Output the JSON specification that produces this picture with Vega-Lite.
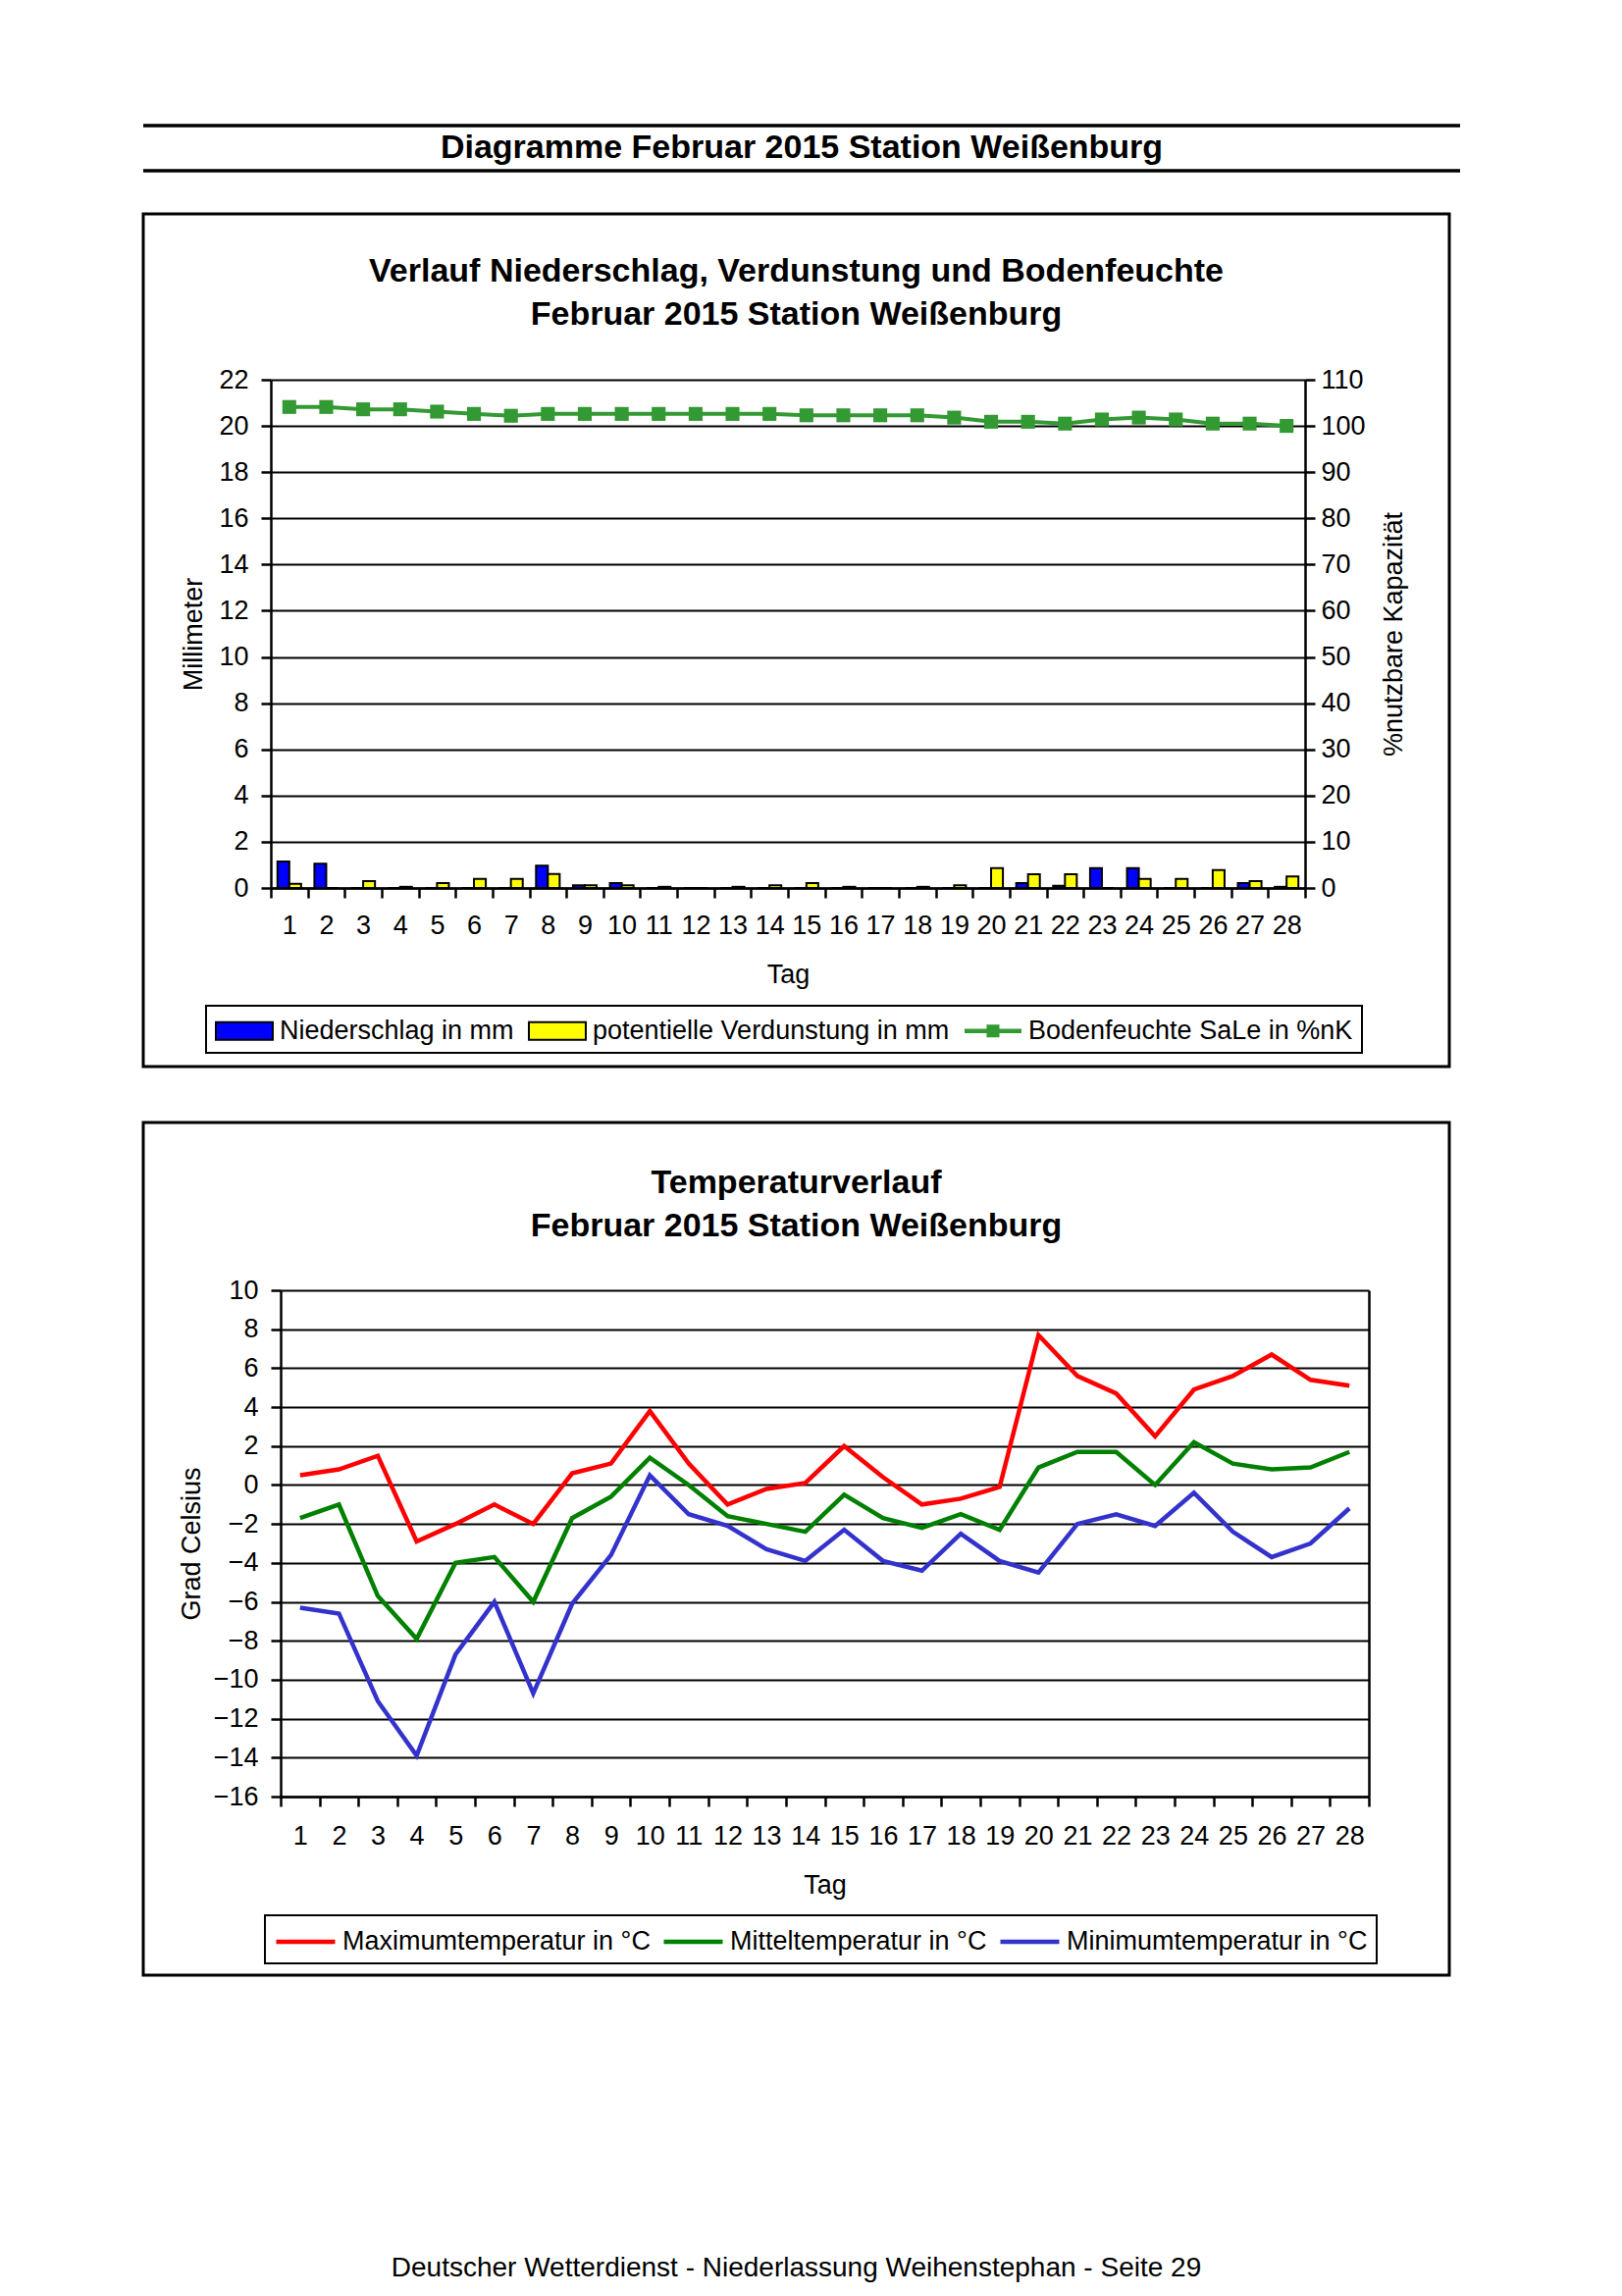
{
  "$schema": "https://vega.github.io/schema/vega-lite/v6.json",
  "background": "white",
  "padding": {"left": 144, "top": 126, "right": 20, "bottom": 0},
  "config": {
    "font": "Liberation Sans",
    "view": {"stroke": null},
    "axis": {"domainColor": "black", "domainWidth": 2.5, "tickColor": "black", "tickWidth": 2.5, "tickSize": 10, "labelColor": "black", "labelFontSize": 27, "labelFont": "Liberation Sans", "titleFont": "Liberation Sans", "titleFontSize": 27, "titleFontWeight": "normal", "titleColor": "black", "gridColor": "black", "gridWidth": 2, "gridOpacity": 1, "labelOverlap": false, "labelFlush": false},
    "legend": {"labelFont": "Liberation Sans", "labelFontSize": 27, "labelColor": "black", "labelLimit": 0},
    "title": {"font": "Liberation Sans", "color": "black"}
  },
  "datasets": {
    "nd": [
      {"Tag": 1, "Reihe": "Niederschlag in mm", "mm": 1.15}, {"Tag": 1, "Reihe": "potentielle Verdunstung in mm", "mm": 0.18},
      {"Tag": 2, "Reihe": "Niederschlag in mm", "mm": 1.05}, {"Tag": 2, "Reihe": "potentielle Verdunstung in mm", "mm": 0},
      {"Tag": 3, "Reihe": "Niederschlag in mm", "mm": 0}, {"Tag": 3, "Reihe": "potentielle Verdunstung in mm", "mm": 0.3},
      {"Tag": 4, "Reihe": "Niederschlag in mm", "mm": 0}, {"Tag": 4, "Reihe": "potentielle Verdunstung in mm", "mm": 0.05},
      {"Tag": 5, "Reihe": "Niederschlag in mm", "mm": 0}, {"Tag": 5, "Reihe": "potentielle Verdunstung in mm", "mm": 0.21},
      {"Tag": 6, "Reihe": "Niederschlag in mm", "mm": 0}, {"Tag": 6, "Reihe": "potentielle Verdunstung in mm", "mm": 0.39},
      {"Tag": 7, "Reihe": "Niederschlag in mm", "mm": 0}, {"Tag": 7, "Reihe": "potentielle Verdunstung in mm", "mm": 0.39},
      {"Tag": 8, "Reihe": "Niederschlag in mm", "mm": 0.97}, {"Tag": 8, "Reihe": "potentielle Verdunstung in mm", "mm": 0.6},
      {"Tag": 9, "Reihe": "Niederschlag in mm", "mm": 0.12}, {"Tag": 9, "Reihe": "potentielle Verdunstung in mm", "mm": 0.12},
      {"Tag": 10, "Reihe": "Niederschlag in mm", "mm": 0.21}, {"Tag": 10, "Reihe": "potentielle Verdunstung in mm", "mm": 0.12},
      {"Tag": 11, "Reihe": "Niederschlag in mm", "mm": 0}, {"Tag": 11, "Reihe": "potentielle Verdunstung in mm", "mm": 0.05},
      {"Tag": 12, "Reihe": "Niederschlag in mm", "mm": 0}, {"Tag": 12, "Reihe": "potentielle Verdunstung in mm", "mm": 0},
      {"Tag": 13, "Reihe": "Niederschlag in mm", "mm": 0}, {"Tag": 13, "Reihe": "potentielle Verdunstung in mm", "mm": 0.05},
      {"Tag": 14, "Reihe": "Niederschlag in mm", "mm": 0}, {"Tag": 14, "Reihe": "potentielle Verdunstung in mm", "mm": 0.12},
      {"Tag": 15, "Reihe": "Niederschlag in mm", "mm": 0}, {"Tag": 15, "Reihe": "potentielle Verdunstung in mm", "mm": 0.21},
      {"Tag": 16, "Reihe": "Niederschlag in mm", "mm": 0}, {"Tag": 16, "Reihe": "potentielle Verdunstung in mm", "mm": 0.05},
      {"Tag": 17, "Reihe": "Niederschlag in mm", "mm": 0}, {"Tag": 17, "Reihe": "potentielle Verdunstung in mm", "mm": 0},
      {"Tag": 18, "Reihe": "Niederschlag in mm", "mm": 0}, {"Tag": 18, "Reihe": "potentielle Verdunstung in mm", "mm": 0.05},
      {"Tag": 19, "Reihe": "Niederschlag in mm", "mm": 0}, {"Tag": 19, "Reihe": "potentielle Verdunstung in mm", "mm": 0.12},
      {"Tag": 20, "Reihe": "Niederschlag in mm", "mm": 0}, {"Tag": 20, "Reihe": "potentielle Verdunstung in mm", "mm": 0.86},
      {"Tag": 21, "Reihe": "Niederschlag in mm", "mm": 0.21}, {"Tag": 21, "Reihe": "potentielle Verdunstung in mm", "mm": 0.59},
      {"Tag": 22, "Reihe": "Niederschlag in mm", "mm": 0.1}, {"Tag": 22, "Reihe": "potentielle Verdunstung in mm", "mm": 0.59},
      {"Tag": 23, "Reihe": "Niederschlag in mm", "mm": 0.86}, {"Tag": 23, "Reihe": "potentielle Verdunstung in mm", "mm": 0},
      {"Tag": 24, "Reihe": "Niederschlag in mm", "mm": 0.86}, {"Tag": 24, "Reihe": "potentielle Verdunstung in mm", "mm": 0.39},
      {"Tag": 25, "Reihe": "Niederschlag in mm", "mm": 0}, {"Tag": 25, "Reihe": "potentielle Verdunstung in mm", "mm": 0.39},
      {"Tag": 26, "Reihe": "Niederschlag in mm", "mm": 0}, {"Tag": 26, "Reihe": "potentielle Verdunstung in mm", "mm": 0.77},
      {"Tag": 27, "Reihe": "Niederschlag in mm", "mm": 0.21}, {"Tag": 27, "Reihe": "potentielle Verdunstung in mm", "mm": 0.3},
      {"Tag": 28, "Reihe": "Niederschlag in mm", "mm": 0.05}, {"Tag": 28, "Reihe": "potentielle Verdunstung in mm", "mm": 0.5}
    ],
    "bf": [
      {"Tag": 1, "nK": 104.1}, {"Tag": 2, "nK": 104.1}, {"Tag": 3, "nK": 103.6}, {"Tag": 4, "nK": 103.6},
      {"Tag": 5, "nK": 103.1}, {"Tag": 6, "nK": 102.6}, {"Tag": 7, "nK": 102.2}, {"Tag": 8, "nK": 102.6},
      {"Tag": 9, "nK": 102.6}, {"Tag": 10, "nK": 102.6}, {"Tag": 11, "nK": 102.6}, {"Tag": 12, "nK": 102.6},
      {"Tag": 13, "nK": 102.6}, {"Tag": 14, "nK": 102.6}, {"Tag": 15, "nK": 102.3}, {"Tag": 16, "nK": 102.3},
      {"Tag": 17, "nK": 102.3}, {"Tag": 18, "nK": 102.3}, {"Tag": 19, "nK": 101.8}, {"Tag": 20, "nK": 100.9},
      {"Tag": 21, "nK": 100.9}, {"Tag": 22, "nK": 100.5}, {"Tag": 23, "nK": 101.4}, {"Tag": 24, "nK": 101.8},
      {"Tag": 25, "nK": 101.4}, {"Tag": 26, "nK": 100.5}, {"Tag": 27, "nK": 100.5}, {"Tag": 28, "nK": 100.0}
    ],
    "temp": [
      {"Tag": 1, "Reihe": "Maximumtemperatur in °C", "Wert": 0.5}, {"Tag": 2, "Reihe": "Maximumtemperatur in °C", "Wert": 0.8},
      {"Tag": 3, "Reihe": "Maximumtemperatur in °C", "Wert": 1.5}, {"Tag": 4, "Reihe": "Maximumtemperatur in °C", "Wert": -2.9},
      {"Tag": 5, "Reihe": "Maximumtemperatur in °C", "Wert": -2.0}, {"Tag": 6, "Reihe": "Maximumtemperatur in °C", "Wert": -1.0},
      {"Tag": 7, "Reihe": "Maximumtemperatur in °C", "Wert": -2.0}, {"Tag": 8, "Reihe": "Maximumtemperatur in °C", "Wert": 0.6},
      {"Tag": 9, "Reihe": "Maximumtemperatur in °C", "Wert": 1.1}, {"Tag": 10, "Reihe": "Maximumtemperatur in °C", "Wert": 3.8},
      {"Tag": 11, "Reihe": "Maximumtemperatur in °C", "Wert": 1.1}, {"Tag": 12, "Reihe": "Maximumtemperatur in °C", "Wert": -1.0},
      {"Tag": 13, "Reihe": "Maximumtemperatur in °C", "Wert": -0.2}, {"Tag": 14, "Reihe": "Maximumtemperatur in °C", "Wert": 0.1},
      {"Tag": 15, "Reihe": "Maximumtemperatur in °C", "Wert": 2.0}, {"Tag": 16, "Reihe": "Maximumtemperatur in °C", "Wert": 0.4},
      {"Tag": 17, "Reihe": "Maximumtemperatur in °C", "Wert": -1.0}, {"Tag": 18, "Reihe": "Maximumtemperatur in °C", "Wert": -0.7},
      {"Tag": 19, "Reihe": "Maximumtemperatur in °C", "Wert": -0.1}, {"Tag": 20, "Reihe": "Maximumtemperatur in °C", "Wert": 7.7},
      {"Tag": 21, "Reihe": "Maximumtemperatur in °C", "Wert": 5.6}, {"Tag": 22, "Reihe": "Maximumtemperatur in °C", "Wert": 4.7},
      {"Tag": 23, "Reihe": "Maximumtemperatur in °C", "Wert": 2.5}, {"Tag": 24, "Reihe": "Maximumtemperatur in °C", "Wert": 4.9},
      {"Tag": 25, "Reihe": "Maximumtemperatur in °C", "Wert": 5.6}, {"Tag": 26, "Reihe": "Maximumtemperatur in °C", "Wert": 6.7},
      {"Tag": 27, "Reihe": "Maximumtemperatur in °C", "Wert": 5.4}, {"Tag": 28, "Reihe": "Maximumtemperatur in °C", "Wert": 5.1},
      {"Tag": 1, "Reihe": "Mitteltemperatur in °C", "Wert": -1.7}, {"Tag": 2, "Reihe": "Mitteltemperatur in °C", "Wert": -1.0},
      {"Tag": 3, "Reihe": "Mitteltemperatur in °C", "Wert": -5.7}, {"Tag": 4, "Reihe": "Mitteltemperatur in °C", "Wert": -7.9},
      {"Tag": 5, "Reihe": "Mitteltemperatur in °C", "Wert": -4.0}, {"Tag": 6, "Reihe": "Mitteltemperatur in °C", "Wert": -3.7},
      {"Tag": 7, "Reihe": "Mitteltemperatur in °C", "Wert": -6.0}, {"Tag": 8, "Reihe": "Mitteltemperatur in °C", "Wert": -1.7},
      {"Tag": 9, "Reihe": "Mitteltemperatur in °C", "Wert": -0.6}, {"Tag": 10, "Reihe": "Mitteltemperatur in °C", "Wert": 1.4},
      {"Tag": 11, "Reihe": "Mitteltemperatur in °C", "Wert": 0.0}, {"Tag": 12, "Reihe": "Mitteltemperatur in °C", "Wert": -1.6},
      {"Tag": 13, "Reihe": "Mitteltemperatur in °C", "Wert": -2.0}, {"Tag": 14, "Reihe": "Mitteltemperatur in °C", "Wert": -2.4},
      {"Tag": 15, "Reihe": "Mitteltemperatur in °C", "Wert": -0.5}, {"Tag": 16, "Reihe": "Mitteltemperatur in °C", "Wert": -1.7},
      {"Tag": 17, "Reihe": "Mitteltemperatur in °C", "Wert": -2.2}, {"Tag": 18, "Reihe": "Mitteltemperatur in °C", "Wert": -1.5},
      {"Tag": 19, "Reihe": "Mitteltemperatur in °C", "Wert": -2.3}, {"Tag": 20, "Reihe": "Mitteltemperatur in °C", "Wert": 0.9},
      {"Tag": 21, "Reihe": "Mitteltemperatur in °C", "Wert": 1.7}, {"Tag": 22, "Reihe": "Mitteltemperatur in °C", "Wert": 1.7},
      {"Tag": 23, "Reihe": "Mitteltemperatur in °C", "Wert": 0.0}, {"Tag": 24, "Reihe": "Mitteltemperatur in °C", "Wert": 2.2},
      {"Tag": 25, "Reihe": "Mitteltemperatur in °C", "Wert": 1.1}, {"Tag": 26, "Reihe": "Mitteltemperatur in °C", "Wert": 0.8},
      {"Tag": 27, "Reihe": "Mitteltemperatur in °C", "Wert": 0.9}, {"Tag": 28, "Reihe": "Mitteltemperatur in °C", "Wert": 1.7},
      {"Tag": 1, "Reihe": "Minimumtemperatur in °C", "Wert": -6.3}, {"Tag": 2, "Reihe": "Minimumtemperatur in °C", "Wert": -6.6},
      {"Tag": 3, "Reihe": "Minimumtemperatur in °C", "Wert": -11.1}, {"Tag": 4, "Reihe": "Minimumtemperatur in °C", "Wert": -13.9},
      {"Tag": 5, "Reihe": "Minimumtemperatur in °C", "Wert": -8.7}, {"Tag": 6, "Reihe": "Minimumtemperatur in °C", "Wert": -6.0},
      {"Tag": 7, "Reihe": "Minimumtemperatur in °C", "Wert": -10.7}, {"Tag": 8, "Reihe": "Minimumtemperatur in °C", "Wert": -6.1},
      {"Tag": 9, "Reihe": "Minimumtemperatur in °C", "Wert": -3.6}, {"Tag": 10, "Reihe": "Minimumtemperatur in °C", "Wert": 0.5},
      {"Tag": 11, "Reihe": "Minimumtemperatur in °C", "Wert": -1.5}, {"Tag": 12, "Reihe": "Minimumtemperatur in °C", "Wert": -2.1},
      {"Tag": 13, "Reihe": "Minimumtemperatur in °C", "Wert": -3.3}, {"Tag": 14, "Reihe": "Minimumtemperatur in °C", "Wert": -3.9},
      {"Tag": 15, "Reihe": "Minimumtemperatur in °C", "Wert": -2.3}, {"Tag": 16, "Reihe": "Minimumtemperatur in °C", "Wert": -3.9},
      {"Tag": 17, "Reihe": "Minimumtemperatur in °C", "Wert": -4.4}, {"Tag": 18, "Reihe": "Minimumtemperatur in °C", "Wert": -2.5},
      {"Tag": 19, "Reihe": "Minimumtemperatur in °C", "Wert": -3.9}, {"Tag": 20, "Reihe": "Minimumtemperatur in °C", "Wert": -4.5},
      {"Tag": 21, "Reihe": "Minimumtemperatur in °C", "Wert": -2.0}, {"Tag": 22, "Reihe": "Minimumtemperatur in °C", "Wert": -1.5},
      {"Tag": 23, "Reihe": "Minimumtemperatur in °C", "Wert": -2.1}, {"Tag": 24, "Reihe": "Minimumtemperatur in °C", "Wert": -0.4},
      {"Tag": 25, "Reihe": "Minimumtemperatur in °C", "Wert": -2.4}, {"Tag": 26, "Reihe": "Minimumtemperatur in °C", "Wert": -3.7},
      {"Tag": 27, "Reihe": "Minimumtemperatur in °C", "Wert": -3.0}, {"Tag": 28, "Reihe": "Minimumtemperatur in °C", "Wert": -1.2}
    ]
  },
  "spacing": 0,
  "bounds": "flush",
  "resolve": {"scale": {"color": "independent", "x": "independent", "y": "independent"}, "legend": {"color": "independent"}},
  "vconcat": [
    {
      "width": 1342,
      "height": 46,
      "data": {"values": [{}]},
      "layer": [
        {"mark": {"type": "rule", "strokeWidth": 3.5, "color": "black"}, "encoding": {"y": {"datum": 1, "type": "quantitative", "scale": {"domain": [0, 1]}, "axis": null}}},
        {"mark": {"type": "rule", "strokeWidth": 3.5, "color": "black"}, "encoding": {"y": {"datum": 0, "type": "quantitative"}}},
        {"mark": {"type": "text", "text": "Diagramme Februar 2015 Station Weißenburg", "font": "Liberation Sans", "fontSize": 34, "fontWeight": "bold", "baseline": "middle", "align": "center", "color": "black"}, "encoding": {"y": {"datum": 0.5, "type": "quantitative"}}}
      ]
    },
    {
      "width": 1331,
      "height": 44,
      "data": {"values": []},
      "mark": {"type": "point"},
      "encoding": {}
    },
    {
      "width": 1331,
      "height": 869,
      "view": {"stroke": "black", "strokeWidth": 3},
      "title": {"text": ["Verlauf Niederschlag, Verdunstung und Bodenfeuchte", "Februar 2015 Station Weißenburg"], "fontSize": 34, "fontWeight": "bold", "lineHeight": 44, "anchor": "middle", "frame": "group", "offset": -120},
      "layer": [
        {
          "data": {"name": "nd"},
          "mark": {"type": "bar", "stroke": "black", "strokeWidth": 2},
          "encoding": {
            "x": {"field": "Tag", "type": "ordinal", "scale": {"range": [130, 1184], "paddingInner": 0, "paddingOuter": 0},
                  "axis": {"orient": "bottom", "offset": -182, "labelAngle": 0, "tickBand": "extent", "title": "Tag", "labelPadding": 15, "titlePadding": 24, "grid": false}},
            "xOffset": {"field": "Reihe", "scale": {"domain": ["Niederschlag in mm", "potentielle Verdunstung in mm"], "paddingOuter": 0.5625, "paddingInner": 0}},
            "y": {"field": "mm", "type": "quantitative", "scale": {"domain": [0, 22], "range": [687, 169], "nice": false},
                  "axis": {"orient": "left", "offset": -130, "values": [0, 2, 4, 6, 8, 10, 12, 14, 16, 18, 20, 22], "grid": true, "title": "Millimeter", "titlePadding": 11, "labelPadding": 13}},
            "color": {"field": "Reihe", "type": "nominal",
                      "scale": {"domain": ["Niederschlag in mm", "potentielle Verdunstung in mm", "Bodenfeuchte SaLe in %nK"], "range": ["#0000FF", "#FFFF00", "#339933"]},
                      "legend": {"orient": "none", "legendX": 64, "legendY": 807, "direction": "horizontal", "title": null, "strokeColor": "black", "padding": 9, "columnPadding": 11, "labelOffset": 33, "symbolSize": 961,
                                 "symbolType": "M-1,-0.58H2.74V0.58H-1Z", "symbolStrokeColor": "black", "symbolStrokeWidth": 2,
                                 "encode": {
                                   "symbols": {"update": {
                                     "shape": {"signal": "datum.value === 'Bodenfeuchte SaLe in %nK' ? 'M-1,-0.15H2.74V0.15H-1Z M0.45,-0.42H1.29V0.42H0.45Z' : 'M-1,-0.58H2.74V0.58H-1Z'"},
                                     "stroke": {"signal": "datum.value === 'Bodenfeuchte SaLe in %nK' ? 'transparent' : 'black'"},
                                     "strokeWidth": {"value": 2},
                                     "opacity": {"value": 1},
                                     "fillOpacity": {"value": 1}
                                   }},
                                   "legend": {"update": {"strokeWidth": {"value": 2}}}
                                 }}}
          }
        },
        {
          "data": {"name": "bf"},
          "mark": {"type": "line", "strokeWidth": 4, "color": "#339933", "point": {"shape": "square", "size": 200, "filled": true, "opacity": 1, "color": "#339933"}},
          "encoding": {
            "x": {"field": "Tag", "type": "ordinal"},
            "y": {"field": "nK", "type": "quantitative", "scale": {"domain": [0, 110], "range": [687, 169], "nice": false},
                  "axis": {"orient": "right", "offset": -147, "values": [0, 10, 20, 30, 40, 50, 60, 70, 80, 90, 100, 110], "grid": false, "title": "%nutzbare Kapazität", "titleAngle": 270, "titlePadding": 43, "labelPadding": 6}}
          }
        }
      ],
      "resolve": {"scale": {"y": "independent"}}
    },
    {
      "width": 1331,
      "height": 57,
      "data": {"values": []},
      "mark": {"type": "point"},
      "encoding": {}
    },
    {
      "width": 1331,
      "height": 869,
      "view": {"stroke": "black", "strokeWidth": 3},
      "title": {"text": ["Temperaturverlauf", "Februar 2015 Station Weißenburg"], "fontSize": 34, "fontWeight": "bold", "lineHeight": 44, "anchor": "middle", "frame": "group", "offset": -123},
      "data": {"name": "temp"},
      "layer": [
        {
          "mark": {"type": "line", "strokeWidth": 4.5},
          "encoding": {
            "x": {"field": "Tag", "type": "ordinal", "scale": {"range": [140, 1249], "paddingInner": 0, "paddingOuter": 0},
                  "axis": {"orient": "bottom", "offset": -182, "labelAngle": 0, "tickBand": "extent", "title": "Tag", "labelPadding": 17, "titlePadding": 24, "grid": false}},
            "y": {"field": "Wert", "type": "quantitative", "scale": {"domain": [-16, 10], "range": [687, 171], "nice": false},
                  "axis": {"orient": "left", "offset": -140, "values": [-16, -14, -12, -10, -8, -6, -4, -2, 0, 2, 4, 6, 8, 10], "grid": true, "title": "Grad Celsius", "titlePadding": 8, "labelPadding": 13}},
            "color": {"field": "Reihe", "type": "nominal",
                      "scale": {"domain": ["Maximumtemperatur in °C", "Mitteltemperatur in °C", "Minimumtemperatur in °C"], "range": ["#FF0000", "#008000", "#3333CC"]},
                      "legend": {"orient": "none", "legendX": 124, "legendY": 808, "direction": "horizontal", "title": null, "strokeColor": "black", "padding": 9, "columnPadding": 4, "labelOffset": 34, "symbolType": "M-1,0H2.87", "symbolSize": 961, "symbolStrokeWidth": 4.5,
                                 "encode": {"legend": {"update": {"strokeWidth": {"value": 2}}}}}}
          }
        },
        {
          "mark": {"type": "line", "opacity": 0},
          "encoding": {
            "x": {"field": "Tag", "type": "ordinal"},
            "y": {"field": "Wert", "type": "quantitative", "scale": {"domain": [-16, 10], "range": [687, 171], "nice": false},
                  "axis": {"orient": "right", "offset": -82, "labels": false, "ticks": false, "grid": false, "title": null, "domain": true}},
            "detail": {"field": "Reihe"}
          }
        }
      ],
      "resolve": {"scale": {"y": "independent"}}
    },
    {
      "width": 1331,
      "height": 200,
      "data": {"values": [{}]},
      "mark": {"type": "text", "text": "Deutscher Wetterdienst - Niederlassung Weihenstephan - Seite 29", "font": "Liberation Sans", "fontSize": 28, "baseline": "middle", "align": "center", "color": "black", "dy": 199},
      "encoding": {}
    }
  ]
}
